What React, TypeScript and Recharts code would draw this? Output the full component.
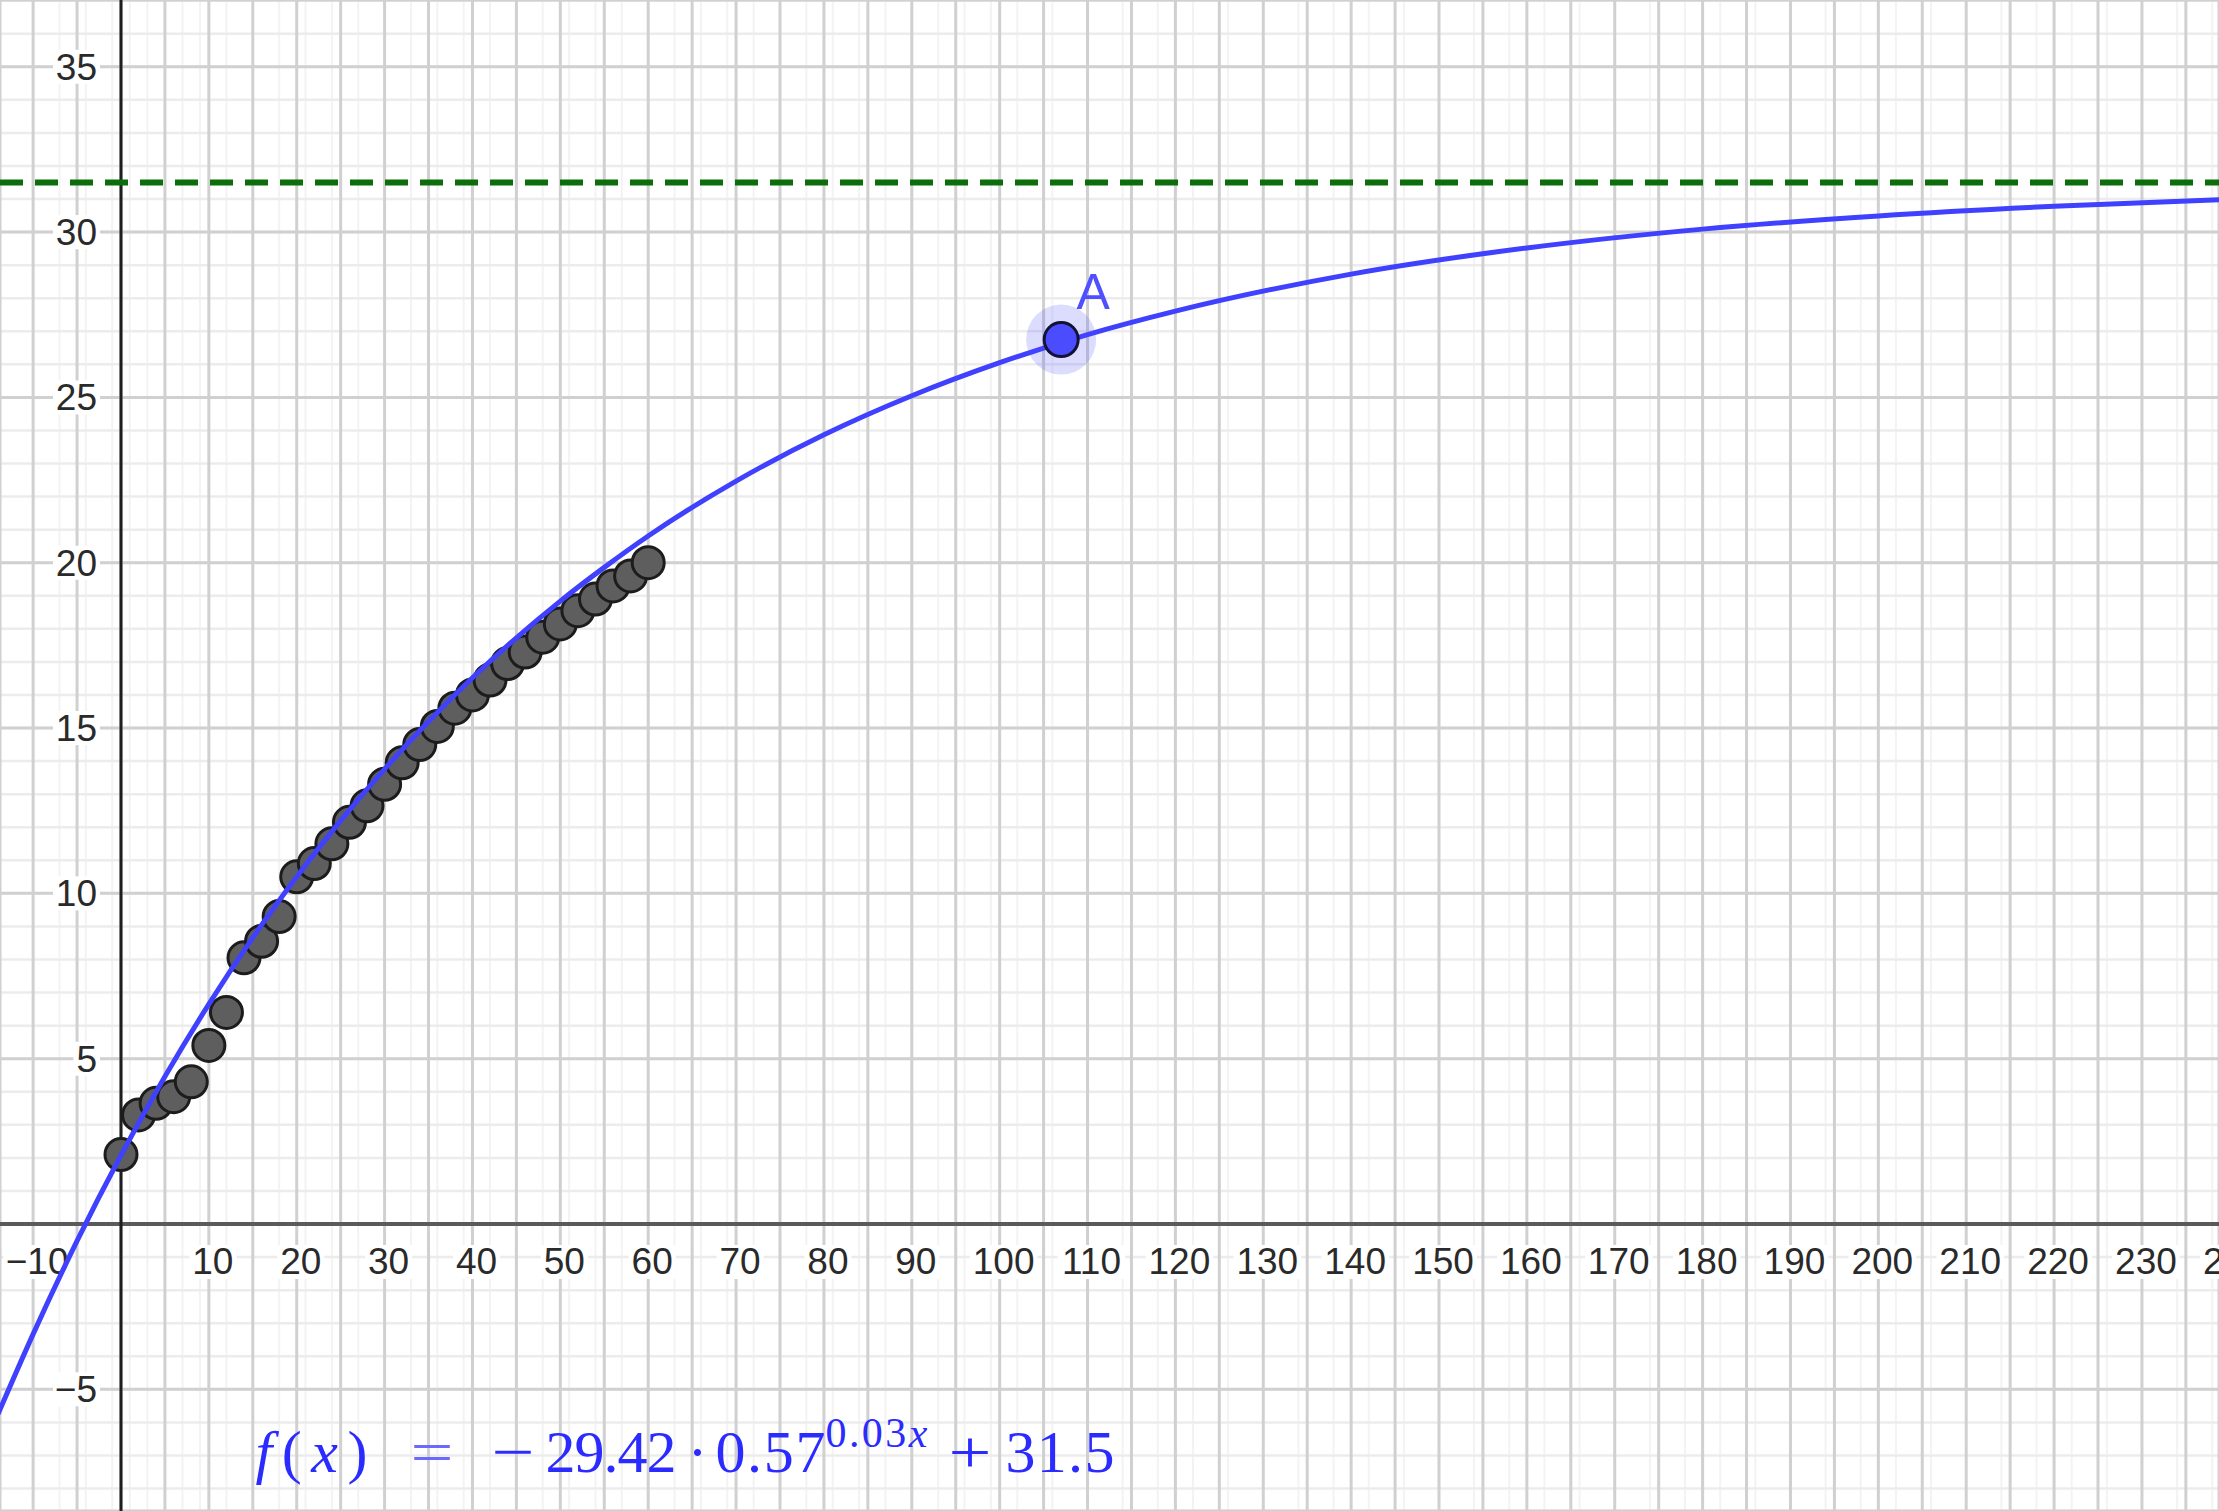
import React from 'react';
import {
  ComposedChart,
  Line,
  Scatter,
  XAxis,
  YAxis,
  CartesianGrid,
  ReferenceLine,
} from 'recharts';

// ---------- data ----------
const sampleX = [0, 2, 4, 6, 8, 10, 12, 14, 16, 18, 20, 22, 24, 26, 28, 30, 32, 34, 36, 38, 40, 42, 44, 46, 48, 50, 52, 54, 56, 58, 60];
const sampleY = [2.1, 3.3, 3.65, 3.85, 4.3, 5.4, 6.4, 8.05, 8.55, 9.3, 10.5, 10.9, 11.5, 12.15, 12.65, 13.3, 13.95, 14.5, 15.05, 15.6, 16.0, 16.45, 16.95, 17.3, 17.75, 18.15, 18.55, 18.9, 19.3, 19.6, 20.0];

// fitted curve
const curveX = [-14, -10, -5, 0, 5, 10, 15, 20, 25, 30, 35, 40, 45, 50, 55, 60, 70, 80, 90, 100, 110, 120, 140, 160, 180, 200, 220, 240];
const curveY = [-5.75, -3.33, -0.51, 2.08, 4.46, 6.65, 8.66, 10.5, 12.2, 13.76, 15.2, 16.52, 17.73, 18.84, 19.86, 20.81, 22.47, 23.87, 25.05, 26.05, 26.9, 27.61, 28.73, 29.52, 30.09, 30.49, 30.78, 30.99];

const pointA = [{ x: 107, y: 26.75, label: 'A' }];
const asymptoteY = 31.5;

const xTickValues = [-10, 10, 20, 30, 40, 50, 60, 70, 80, 90, 100, 110, 120, 130, 140, 150, 160, 170, 180, 190, 200, 210, 220, 230, 240];
const yTickValues = [-5, 5, 10, 15, 20, 25, 30, 35];

const formulaAnchor = [{ x: 15.3, y: -7.5 }];

const X_DOMAIN: [number, number] = [-13.77, 238.77];
const Y_DOMAIN: [number, number] = [-8.68, 37.02];

const range = (a: number, b: number, s: number) => {
  const out: number[] = [];
  for (let v = a; v <= b; v += s) out.push(v);
  return out;
};
const minorXTicks = range(-13, 238, 1);
const minorYTicks = range(-8, 37, 1);
const majorXTicks = range(-10, 235, 5);
const majorYTicks = range(-5, 35, 5);

const samples = sampleX.map((x, i) => ({ x, y: sampleY[i] }));
const curve = curveX.map((x, i) => ({ x, y: curveY[i] }));
const xTickData = xTickValues.map((v) => ({ x: v, y: 0 }));
const yTickData = yTickValues.map((v) => ({ x: 0, y: v }));

const W = 2219;
const H = 1511;

const fmt = (v: number) => (v < 0 ? '\u2212' + Math.abs(v) : String(v));
const LABEL_FONT = "'Liberation Sans', Arial, 'DejaVu Sans', sans-serif";
const MATH_FONT = "'Liberation Serif', 'DejaVu Serif', serif";

const SampleDot = (p: any) => (
  <circle cx={p.cx} cy={p.cy} r={16} fill="#5e5e5e" stroke="#1c1c1c" strokeWidth={3} />
);

const PointAShape = (p: any) => (
  <g>
    <circle cx={p.cx} cy={p.cy} r={35} fill="rgba(80,80,255,0.2)" />
    <circle cx={p.cx} cy={p.cy} r={17} fill="#4c4cff" stroke="#121235" strokeWidth={3} />
    <text x={p.cx + 32} y={p.cy - 31} textAnchor="middle" fontSize={50} fontFamily={LABEL_FONT} fill="#5050ff">
      {p.payload.label}
    </text>
  </g>
);

const XTickLabel = (p: any) => {
  const txt = fmt(p.payload.x);
  const w = txt.length * 20.5 + 6;
  return (
    <g>
      <rect x={p.cx + 4 - w / 2} y={p.cy + 21} width={w} height={34} fill="#ffffff" />
      <text x={p.cx + 4} y={p.cy + 50} textAnchor="middle" fontSize={37} fontFamily={LABEL_FONT} fill="#2a2a2a">
        {txt}
      </text>
    </g>
  );
};

const YTickLabel = (p: any) => {
  const txt = fmt(p.payload.y);
  const w = txt.length * 20.5 + 6;
  return (
    <g>
      <rect x={p.cx - 21 - w} y={p.cy - 17} width={w} height={34} fill="#ffffff" />
      <text x={p.cx - 24} y={p.cy + 13} textAnchor="end" fontSize={37} fontFamily={LABEL_FONT} fill="#2a2a2a">
        {txt}
      </text>
    </g>
  );
};

const Formula = (p: any) => {
  const x0 = p.cx;
  const b = p.cy;
  const c = '#2b2bff';
  return (
    <g fill={c} fontFamily={MATH_FONT}>
      <text x={x0} y={b} fontSize={60} textLength={112} lengthAdjust="spacing">
        <tspan fontStyle="italic">f</tspan>(<tspan fontStyle="italic">x</tspan>)
      </text>
      <text x={x0 + 155} y={b} fontSize={60} textLength={43} lengthAdjust="spacingAndGlyphs" fill="#6a6aff">=</text>
      <text x={x0 + 236} y={b} fontSize={60} textLength={43} lengthAdjust="spacingAndGlyphs">{'\u2212'}</text>
      <text x={x0 + 290} y={b} fontSize={60} textLength={131} lengthAdjust="spacing">29.42</text>
      <text x={x0 + 432} y={b} fontSize={60}>{'\u00b7'}</text>
      <text x={x0 + 460} y={b} fontSize={60} textLength={110} lengthAdjust="spacing">0.57</text>
      <text x={x0 + 570} y={b - 25} fontSize={42} textLength={102} lengthAdjust="spacing">
        0.03<tspan fontStyle="italic">x</tspan>
      </text>
      <text x={x0 + 693} y={b} fontSize={60} textLength={43} lengthAdjust="spacingAndGlyphs">+</text>
      <text x={x0 + 750} y={b} fontSize={60} textLength={109} lengthAdjust="spacing">31.5</text>
    </g>
  );
};

export default function App() {
  const L: any = Line;
  const S: any = Scatter;
  return (
    <div style={{ width: W, height: H, background: '#ffffff' }}>
      <style>{'body{margin:0;background:#fff;}'}</style>
      <ComposedChart width={W} height={H} margin={{ top: 0, right: 0, bottom: 0, left: 0 }}>
        <XAxis xAxisId="minor" type="number" dataKey="x" domain={X_DOMAIN} ticks={minorXTicks} allowDataOverflow hide />
        <YAxis yAxisId="minor" type="number" dataKey="y" domain={Y_DOMAIN} ticks={minorYTicks} allowDataOverflow hide />
        <XAxis xAxisId="major" type="number" dataKey="x" domain={X_DOMAIN} ticks={majorXTicks} allowDataOverflow hide />
        <YAxis yAxisId="major" type="number" dataKey="y" domain={Y_DOMAIN} ticks={majorYTicks} allowDataOverflow hide />

        <CartesianGrid xAxisId="minor" yAxisId="minor" horizontal={false} stroke="#f3f3f3" strokeWidth={2} />
        <CartesianGrid xAxisId="minor" yAxisId="minor" vertical={false} stroke="#ececec" strokeWidth={2.5} />
        <CartesianGrid xAxisId="major" yAxisId="major" stroke="#d0d0d0" strokeWidth={3} />

        <ReferenceLine xAxisId="major" yAxisId="major" y={0} stroke="#5a5a5a" strokeWidth={4} />
        <ReferenceLine xAxisId="major" yAxisId="major" x={0} stroke="#1e1e1e" strokeWidth={3} />
        <ReferenceLine
          xAxisId="major"
          yAxisId="major"
          y={asymptoteY}
          stroke="#0b6e0b"
          strokeWidth={6}
          strokeDasharray="23 12"
        />

        <S xAxisId="major" yAxisId="major" data={xTickData} shape={XTickLabel} isAnimationActive={false} zIndex={300} />
        <S xAxisId="major" yAxisId="major" data={yTickData} shape={YTickLabel} isAnimationActive={false} zIndex={300} />

        <S xAxisId="major" yAxisId="major" data={samples} shape={SampleDot} isAnimationActive={false} zIndex={500} />
        <L
          xAxisId="major"
          yAxisId="major"
          data={curve}
          dataKey="y"
          type="monotone"
          stroke="#4040ff"
          strokeWidth={5}
          dot={false}
          activeDot={false}
          isAnimationActive={false}
          zIndex={650}
        />
        <S xAxisId="major" yAxisId="major" data={pointA} shape={PointAShape} isAnimationActive={false} zIndex={700} />
        <S xAxisId="major" yAxisId="major" data={formulaAnchor} shape={Formula} isAnimationActive={false} zIndex={700} />
      </ComposedChart>
    </div>
  );
}
